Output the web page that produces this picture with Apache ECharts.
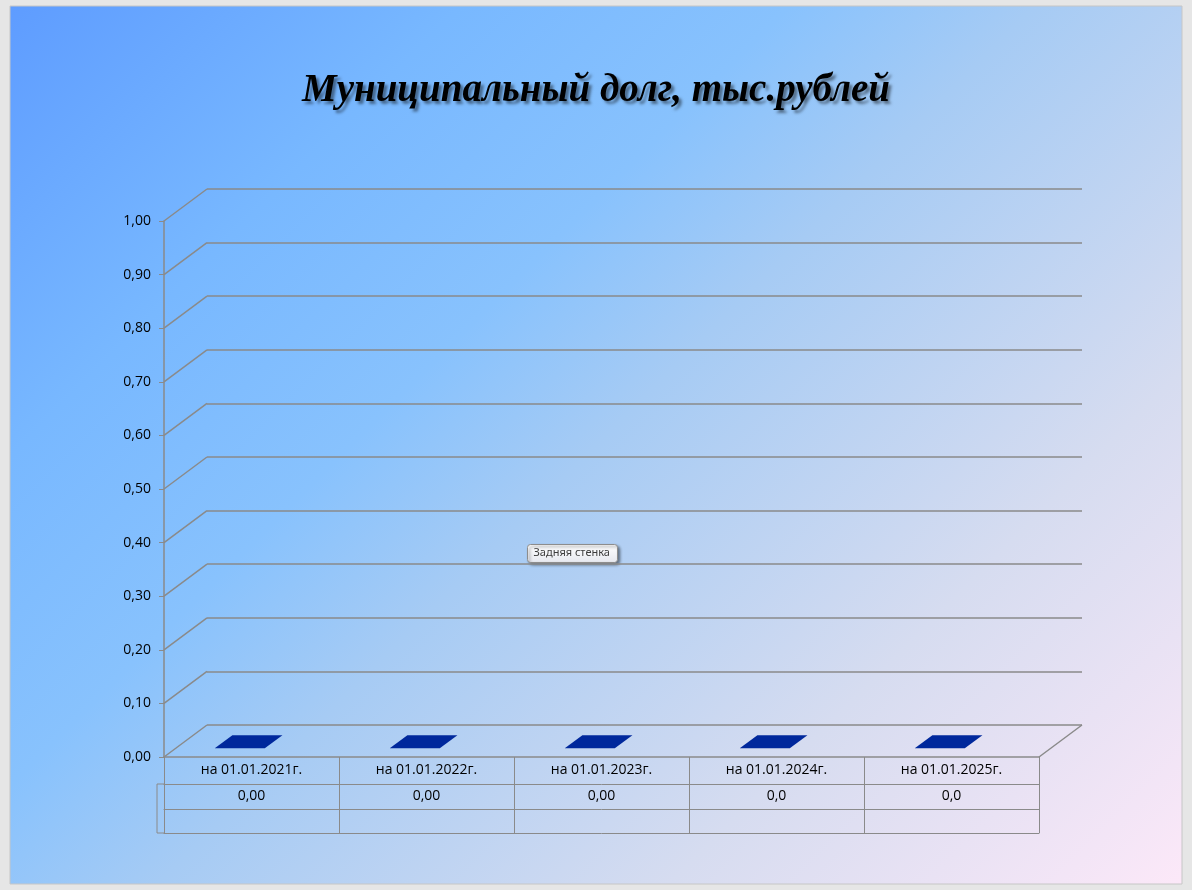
<!DOCTYPE html>
<html>
<head>
<meta charset="utf-8">
<script src="https://cdn.jsdelivr.net/npm/echarts@6/dist/echarts.min.js"></script>
<style>
  html, body { margin: 0; padding: 0; background: #e6e6e6; }
  #chart { width: 1192px; height: 890px; }
</style>
</head>
<body>
<div id="chart"></div>
<script>
// данные
var categories = ['на 01.01.2021г.', 'на 01.01.2022г.', 'на 01.01.2023г.', 'на 01.01.2024г.', 'на 01.01.2025г.'];
var debtValues = [0, 0, 0, 0, 0];
var tableLabels = ['0,00', '0,00', '0,00', '0,0', '0,0'];
var yTicks = [0, 0.1, 0.2, 0.3, 0.4, 0.5, 0.6, 0.7, 0.8, 0.9, 1.0];

(function () {
  var myChart = echarts.init(document.getElementById('chart'));

  // передняя плоскость и смещение задней стенки (псевдо-3D)
  var L = 164, R = 153, T = 221, B = 133;
  var DX = 43, DY = -32;
  var gridColor = '#8a8a8a';
  var font = 'Open Sans';

  var option = {
    backgroundColor: '#e6e6e6',
    title: {
      text: 'Муниципальный долг, тыс.рублей',
      left: 'center',
      top: 66,
      textStyle: {
        fontFamily: 'Liberation Serif',
        fontStyle: 'italic',
        fontWeight: 'bold',
        fontSize: 39,
        color: '#000',
        textShadowColor: 'rgba(0,0,0,0.45)',
        textShadowOffsetX: 3,
        textShadowOffsetY: 3,
        textShadowBlur: 3
      }
    },
    graphic: [
      {
        type: 'rect', z: -10, silent: true,
        shape: { x: 10, y: 6, width: 1172, height: 878 },
        style: {
          stroke: '#c6c6c6', lineWidth: 1,
          fill: {
            type: 'linear', global: true, x: 10, y: 6, x2: 1035, y2: 1031,
            colorStops: [
              { offset: 0, color: '#5e9cff' },
              { offset: 0.22, color: '#78b8ff' },
              { offset: 0.38, color: '#88c2fd' },
              { offset: 0.5, color: '#a6cbf4' },
              { offset: 0.75, color: '#d6dcf0' },
              { offset: 1, color: '#fce8f8' }
            ]
          }
        }
      },
      {
        // левый столбец таблицы (ключ легенды)
        type: 'polyline', z: 5, silent: true,
        shape: { points: [[L, 890 - B + 27], [L - 7, 890 - B + 27], [L - 7, 890 - B + 76], [L, 890 - B + 76]] },
        style: { stroke: gridColor, lineWidth: 1, fill: null }
      },
      {
        type: 'group', left: 527, top: 544, z: 100,
        children: [
          {
            type: 'rect',
            shape: { x: 0, y: 0, width: 90, height: 18, r: 3 },
            style: {
              fill: { type: 'linear', x: 0, y: 0, x2: 0, y2: 1,
                colorStops: [{ offset: 0, color: '#ffffff' }, { offset: 1, color: '#e6e8ef' }] },
              stroke: '#8d8d8d', lineWidth: 1,
              shadowColor: 'rgba(0,0,0,0.45)', shadowBlur: 3, shadowOffsetX: 2, shadowOffsetY: 2
            }
          },
          {
            type: 'text', x: 6, y: 3,
            style: { text: 'Задняя стенка', fill: '#3c3c3c', fontSize: 11, fontFamily: 'Noto Sans' }
          }
        ]
      }
    ],
    grid: [
      { left: L, right: R, top: T, bottom: B },
      { left: L + DX, right: R - DX, top: T + DY, bottom: B - DY }
    ],
    xAxis: [
      {
        type: 'category', gridIndex: 0, data: categories,
        axisLine: { lineStyle: { color: gridColor, width: 1.5 } },
        axisTick: { show: true, interval: 0, length: 76, lineStyle: { color: gridColor, width: 1 } },
        axisLabel: { interval: 0, margin: 6, color: '#000', fontSize: 14, fontFamily: font }
      },
      {
        type: 'category', gridIndex: 0, data: categories, position: 'bottom', offset: 27,
        axisLine: { lineStyle: { color: gridColor, width: 1 } },
        axisTick: { show: false },
        axisLabel: {
          interval: 0, margin: 5, color: '#000', fontSize: 14, fontFamily: font,
          formatter: function (v, i) { return tableLabels[i]; }
        }
      },
      {
        type: 'category', gridIndex: 0, data: categories, position: 'bottom', offset: 52,
        axisLine: { lineStyle: { color: gridColor, width: 1 } },
        axisTick: { show: false }, axisLabel: { show: false }
      },
      {
        type: 'category', gridIndex: 0, data: categories, position: 'bottom', offset: 76,
        axisLine: { lineStyle: { color: gridColor, width: 1 } },
        axisTick: { show: false }, axisLabel: { show: false }
      },
      {
        type: 'category', gridIndex: 1, data: categories, show: false
      }
    ],
    yAxis: [
      {
        type: 'value', gridIndex: 0, min: 0, max: 1, interval: 0.1,
        axisLine: { show: true, lineStyle: { color: gridColor, width: 1.5 } },
        axisTick: { show: true, length: 5, lineStyle: { color: gridColor } },
        splitLine: { show: false },
        axisLabel: {
          color: '#000', fontSize: 14, fontFamily: font, margin: 13,
          formatter: function (v) { return v.toFixed(2).replace('.', ','); }
        }
      },
      {
        type: 'value', gridIndex: 1, min: 0, max: 1, interval: 0.1,
        axisLine: { show: false }, axisTick: { show: false }, axisLabel: { show: false },
        splitLine: { show: true, lineStyle: { color: gridColor, width: 1.5 } }
      }
    ],
    series: [
      {
        // диагонали от передней оси к задней стенке
        type: 'custom', xAxisIndex: 0, yAxisIndex: 0, silent: true, z: 3,
        data: yTicks.map(function (t) { return [0, t]; }),
        renderItem: function (params, api) {
          var bw = api.size([1, 0])[0];
          var p = api.coord([0, api.value(1)]);
          var xL = p[0] - bw / 2, y = p[1];
          var children = [{
            type: 'line',
            shape: { x1: xL, y1: y, x2: xL + DX, y2: y + DY },
            style: { stroke: gridColor, lineWidth: 1.5 }
          }];
          if (api.value(1) === 0) {
            var last = api.coord([categories.length - 1, 0]);
            var xR = last[0] + bw / 2;
            children.push({
              type: 'line',
              shape: { x1: xR, y1: y, x2: xR + DX, y2: y + DY },
              style: { stroke: gridColor, lineWidth: 1.5 }
            });
          }
          return { type: 'group', children: children };
        }
      },
      {
        // столбцы (при нулевом значении видна только верхняя грань)
        name: 'Муниципальный долг', type: 'custom', xAxisIndex: 0, yAxisIndex: 0, z: 4,
        data: debtValues.map(function (v, i) { return [i, v]; }),
        renderItem: function (params, api) {
          var bw = api.size([1, 0])[0];
          var top = api.coord([api.value(0), api.value(1)]);
          var base = api.coord([api.value(0), 0]);
          var d0 = 0.27, d1 = 0.68;
          var w = bw * 0.286;
          var fx = top[0] - bw * 0.21, fy = top[1] + d0 * DY, by = base[1] + d0 * DY;
          var ddx = (d1 - d0) * DX, ddy = (d1 - d0) * DY;
          var color = '#00289c';
          var children = [];
          if (by - fy > 0.5) {
            children.push({ type: 'rect', shape: { x: fx, y: fy, width: w, height: by - fy }, style: { fill: color } });
            children.push({ type: 'polygon', shape: { points: [[fx + w, fy], [fx + w + ddx, fy + ddy], [fx + w + ddx, by + ddy], [fx + w, by]] }, style: { fill: '#001f7a' } });
          }
          children.push({
            type: 'polygon',
            shape: { points: [[fx, fy], [fx + w, fy], [fx + w + ddx, fy + ddy], [fx + ddx, fy + ddy]] },
            style: { fill: color }
          });
          return { type: 'group', children: children };
        }
      }
    ]
  };
  myChart.setOption(option);
})();
</script>
</body>
</html>
